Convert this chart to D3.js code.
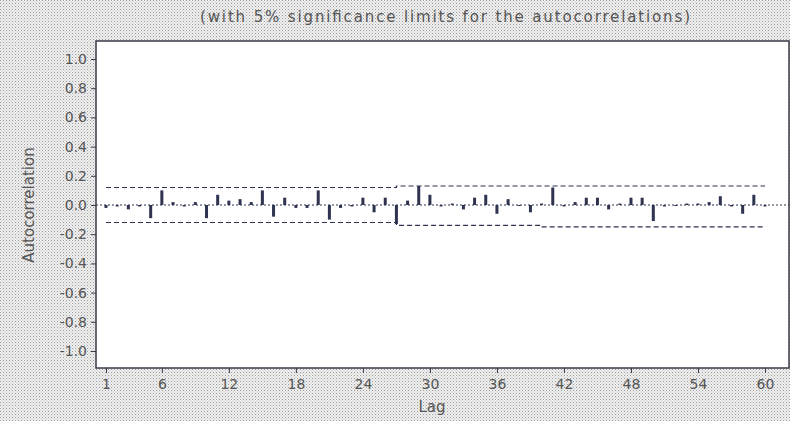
<!DOCTYPE html>
<html><head><meta charset="utf-8">
<script src="https://cdn.jsdelivr.net/npm/d3@7"></script>
<style>body{margin:0;background:#fff}svg{display:block}</style>
</head><body>
<script>
const lags = d3.range(1, 61);
const acf = [-0.02,-0.01,-0.03,-0.01,-0.09,0.10,0.02,-0.01,0.02,-0.09,
             0.07,0.03,0.04,0.02,0.10,-0.08,0.05,-0.02,-0.02,0.10,
            -0.10,-0.02,-0.01,0.05,-0.05,0.05,-0.13,0.03,0.13,0.07,
            -0.01,0.01,-0.03,0.05,0.07,-0.06,0.04,0.00,-0.05,0.01,
             0.12,-0.01,0.02,0.05,0.05,-0.03,0.01,0.05,0.05,-0.11,
            -0.01,0.00,0.01,0.01,0.02,0.06,-0.01,-0.06,0.07,-0.01];
const upperLimit = [0.12,0.12,0.12,0.12,0.12,0.12,0.12,0.12,0.12,0.12,
                    0.12,0.12,0.12,0.12,0.12,0.12,0.12,0.12,0.12,0.12,
                    0.12,0.12,0.12,0.12,0.12,0.12,0.12,0.13,0.13,0.13,
                    0.13,0.13,0.13,0.13,0.13,0.13,0.13,0.13,0.13,0.13,
                    0.13,0.13,0.13,0.13,0.13,0.13,0.13,0.13,0.13,0.13,
                    0.13,0.13,0.13,0.13,0.13,0.13,0.13,0.13,0.13,0.13];
const lowerLimit = [-0.12,-0.12,-0.12,-0.12,-0.12,-0.12,-0.12,-0.12,-0.12,-0.12,
                    -0.12,-0.12,-0.12,-0.12,-0.12,-0.12,-0.12,-0.12,-0.12,-0.12,
                    -0.12,-0.12,-0.12,-0.12,-0.12,-0.12,-0.12,-0.14,-0.14,-0.14,
                    -0.14,-0.14,-0.14,-0.14,-0.14,-0.14,-0.14,-0.14,-0.14,-0.14,
                    -0.15,-0.15,-0.15,-0.15,-0.15,-0.15,-0.15,-0.15,-0.15,-0.15,
                    -0.15,-0.15,-0.15,-0.15,-0.15,-0.15,-0.15,-0.15,-0.15,-0.15];
const xTicks = [1,6,12,18,24,30,36,42,48,54,60];
const yTicks = [1.0,0.8,0.6,0.4,0.2,0.0,-0.2,-0.4,-0.6,-0.8,-1.0];
const title = "(with 5% significance limits for the autocorrelations)";
const xLabel = "Lag";
const yLabel = "Autocorrelation";

const W = 790, H = 421;
const svg = d3.select("body").append("svg").attr("width", W).attr("height", H);
const defs = svg.append("defs");
const pat = defs.append("pattern").attr("id","dots").attr("width",3).attr("height",3)
  .attr("patternUnits","userSpaceOnUse");
pat.append("rect").attr("width",3).attr("height",3).attr("fill","#efefef");
pat.append("rect").attr("x",0).attr("y",0).attr("width",1).attr("height",1).attr("fill","#9c9c9c");
pat.append("rect").attr("x",1.5).attr("y",1.5).attr("width",1).attr("height",1).attr("fill","#bdbdbd");
svg.append("rect").attr("width",W).attr("height",H).attr("fill","url(#dots)");

const plot = {left:96, top:41, right:789, bottom:368};
const x = d3.scaleLinear().domain([1,60]).range([106,765]);
const y = d3.scaleLinear().domain([-1,1]).range([351,59]);
const ink = "#2e3350";
const font = "DejaVu Sans, Verdana, sans-serif";

svg.append("rect").attr("x",plot.left).attr("y",plot.top)
  .attr("width",plot.right-plot.left).attr("height",plot.bottom-plot.top)
  .attr("fill","#fff").attr("stroke","#3a3a48").attr("stroke-width",1.5);

// zero line
svg.append("line").attr("x1",plot.left).attr("x2",plot.right)
  .attr("y1",y(0)).attr("y2",y(0)).attr("stroke",ink).attr("stroke-width",1)
  .attr("stroke-dasharray","2,2");

// significance limits
const lim = d3.line().x(d=>x(d[0])).y(d=>y(d[1])).curve(d3.curveStepBefore);
[upperLimit, lowerLimit].forEach(arr=>{
  svg.append("path").datum(lags.map((l,i)=>[l,arr[i]]))
    .attr("d",lim).attr("fill","none").attr("stroke",ink).attr("stroke-width",1.2)
    .attr("stroke-dasharray","5,3");
});

// bars
svg.append("g").selectAll("rect").data(lags).join("rect")
  .attr("x",d=>x(d)-1.5).attr("width",3)
  .attr("y",(d,i)=>Math.min(y(acf[i]),y(0)))
  .attr("height",(d,i)=>Math.max(1,Math.abs(y(acf[i])-y(0))))
  .attr("fill",ink);

// axes
const fmtY = d => d3.format(".1f")(d).replace("\u2212","-");
const yAxis = svg.append("g").attr("transform",`translate(${plot.left},0)`)
  .call(d3.axisLeft(y).tickValues(yTicks).tickSize(5).tickPadding(4).tickFormat(fmtY));
const xAxis = svg.append("g").attr("transform",`translate(0,${plot.bottom})`)
  .call(d3.axisBottom(x).tickValues(xTicks).tickSize(5).tickPadding(6).tickFormat(d3.format("d")));
[yAxis,xAxis].forEach(a=>{
  a.select(".domain").remove();
  a.selectAll("line").attr("stroke","#3a3a48");
  a.selectAll("text").attr("fill","#555").attr("font-family",font).attr("font-size",14);
});

svg.append("text").attr("x",445).attr("y",22).attr("text-anchor","middle")
  .attr("font-family",font).attr("font-size",15).attr("fill","#555")
  .attr("textLength",490).attr("lengthAdjust","spacing").text(title);
svg.append("text").attr("x",432).attr("y",412).attr("text-anchor","middle")
  .attr("font-family",font).attr("font-size",15).attr("fill","#555").text(xLabel);
svg.append("text").attr("transform",`translate(34,205) rotate(-90)`).attr("text-anchor","middle")
  .attr("font-family",font).attr("font-size",15).attr("fill","#555").text(yLabel);
</script>
</body></html>
